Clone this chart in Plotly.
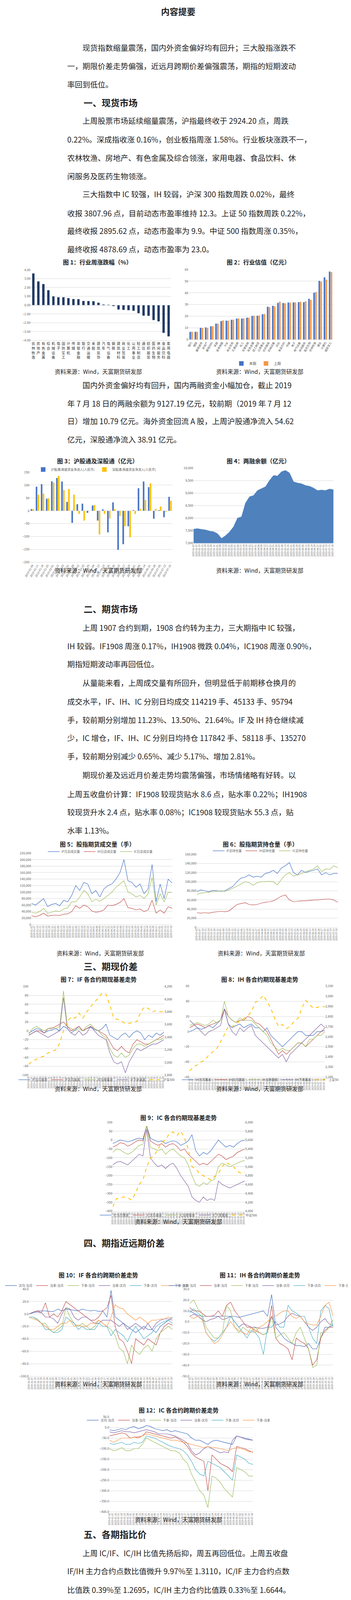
import numpy as np
import pandas as pd
import plotly.graph_objects as go

W, H = 898, 6243
FONT = "Noto Sans CJK SC"

# ---------------- data ----------------
ind1 = ["农林牧渔","房地产","有色金属","综合","机械设备","电子","国防军工","计算机","传媒","非银金融","银行","交通运输","采掘","建筑装饰","汽车","电气设备","钢铁","建筑材料","商业贸易","化工","公用事业","轻工制造","通信","纺织服装","医药生物","休闲服务","食品饮料","家用电器"]
chg1 = [3.6,2.7,2.4,1.7,1.0,0.9,0.9,0.8,0.7,0.68,0.48,0.47,0.45,0.28,0.08,0.05,-0.12,-0.5,-0.55,-0.58,-0.65,-0.92,-1.2,-1.22,-1.7,-1.85,-3.15,-3.55]

ind2 = ["银行","钢铁","建筑装饰","房地产","建筑材料","采掘","家用电器","汽车","商业贸易","交通运输","化工","非银金融","有色金属","轻工制造","公用事业","纺织服装","机械设备","综合","食品饮料","传媒","电子","电气设备","休闲服务","医药生物","农林牧渔","通信","计算机","国防军工"]
pe_now = [6.8,6.8,10.2,10.5,11.5,13.8,15.9,16.3,17.0,18.1,18.1,18.9,20.4,20.5,21.8,28.2,29.0,31.5,31.4,31.8,31.9,32.1,32.1,35.0,40.2,50.3,53.3,58.3]
pe_prev = [6.8,6.8,10.1,10.2,11.5,13.7,16.5,16.2,17.1,18.1,18.2,18.8,20.5,20.6,22.0,27.8,28.6,32.5,31.1,31.6,31.9,32.4,32.9,34.1,40.7,49.7,51.3,57.8]

wk = ["2019-01-04","2019-01-11","2019-01-18","2019-01-25","2019-02-01","2019-02-15","2019-02-22","2019-03-01","2019-03-08","2019-03-15","2019-03-22","2019-03-29","2019-04-04","2019-04-12","2019-04-19","2019-04-26","2019-04-30","2019-05-10","2019-05-17","2019-05-24","2019-05-31","2019-06-06","2019-06-14","2019-06-21","2019-06-28","2019-07-05","2019-07-12","2019-07-19"]
hgt = [7,94,104,47,115,128,114,35,-47,26,28,-8,21,-38,6,-84,33,-152,-130,-60,3,88,114,92,-31,3,-25,54.62]
sgt = [7,63,67,48,110,136,81,85,63,-12,-38,1,23,-92,-12,-30,7,-20,-60,-103,-12,8,43,107,8,17,-4,38.91]

margin = [7560,7580,7550,7530,7480,7460,7380,7190,7300,7450,7650,8000,8050,8600,8850,8900,9100,9180,9250,9500,9700,9680,9850,9900,9800,9450,9400,9370,9300,9270,9200,9100,9120,9100,9160,9130]

vol_if = [65000,60000,70000,80000,55000,62000,65000,58000,75000,70000,90000,120000,105000,130000,125000,95000,105000,85000,110000,120000,125000,140000,160000,200000,135000,130000,115000,125000,95000,110000,185000,70000,125000,80000,140000,128000]
vol_ih = [27000,24000,28000,35000,26000,28000,29000,28000,32000,33000,40000,58000,50000,60000,55000,42000,38000,40000,45000,60000,58000,62000,68000,80000,52000,50000,45000,48000,40000,45000,75000,35000,45000,35000,55000,50000]
vol_ic = [38000,35000,40000,50000,35000,38000,42000,40000,48000,52000,70000,70000,85000,105000,95000,70000,78000,72000,80000,90000,100000,115000,125000,135000,100000,95000,85000,90000,80000,95000,145000,60000,95000,70000,100000,98000]

oi_if = [78000,82000,80000,78000,81000,80000,79000,80000,85000,90000,100000,108000,110000,115000,110000,112000,110000,118000,120000,125000,118000,130000,135000,142000,120000,115000,125000,120000,123000,125000,128000,115000,120000,115000,118000,118000]
oi_ih = [32000,31000,32000,31000,33000,34000,35000,34000,36000,43000,50000,52000,54000,50000,49000,50000,53000,55000,56000,58000,63000,68000,71000,60000,56000,57000,58000,58000,59000,60000,60000,61000,62000,62000,60000,55000]
oi_ic = [72000,75000,76000,77000,78000,79000,80000,79000,82000,86000,90000,95000,100000,98000,92000,98000,100000,100000,101000,100000,93000,105000,115000,120000,112000,115000,118000,122000,125000,128000,135000,122000,128000,127000,135000,131000]

hs300 = [2970,3020,3050,3080,3100,3150,3170,3200,3300,3500,3650,3720,3700,3780,3700,3800,3880,3950,4020,4100,4080,3900,3700,3680,3660,3610,3620,3630,3650,3800,3880,3850,3800,3820,3800,3808]
if_b1 = [-5,0,5,3,-5,0,2,5,0,10,5,-5,2,10,0,5,8,3,0,5,15,-10,-15,-20,-10,-5,-15,-5,0,-5,-20,-10,-15,-5,-10,-3]
if_b2 = [-10,-5,0,0,-5,5,5,10,15,20,10,0,5,10,0,5,10,5,0,-5,-10,-25,-40,-45,-35,-45,-50,-30,-20,-25,-30,-30,-25,-20,-15,-10]
if_b3 = [-8,5,10,5,0,5,8,5,10,90,10,5,0,5,0,10,15,5,0,-10,-15,-40,-55,-60,-50,-60,-55,-40,-30,-30,-35,-30,-25,-20,-20,-15]
if_b4 = [-10,-5,0,-5,-10,-15,-10,-5,0,75,5,-5,-10,0,-10,-5,10,0,-10,-15,-20,-50,-70,-75,-70,-95,-70,-55,-40,-45,-40,-35,-30,-30,-25,-20]

sz50 = [2260,2300,2320,2350,2370,2420,2450,2480,2550,2620,2700,2700,2720,2760,2780,2800,2850,2940,2960,3010,2950,2880,2780,2700,2720,2680,2700,2750,2780,2880,2960,2920,2880,2890,2900,2895]
ih_b1 = [0,2,5,3,5,8,5,10,15,30,10,5,8,10,5,8,10,5,5,0,5,-5,-10,-15,-20,-15,-10,-5,0,0,-5,-5,-5,0,0,2]
ih_b2 = [5,8,10,8,5,8,10,12,15,30,20,15,12,15,15,20,18,12,10,5,0,-10,-20,-30,-25,-30,-25,-20,-15,-15,-20,-15,-10,-5,0,5]
ih_b3 = [8,10,12,10,8,10,15,12,15,40,20,15,12,18,15,15,15,10,5,0,-5,-15,-20,-25,-22,-25,-25,-20,-15,-15,-20,-10,-10,-5,-5,0]
ih_b4 = [15,10,5,0,-5,0,2,5,8,30,10,0,-5,5,0,5,8,-5,-10,-15,-20,-25,-30,-35,-30,-40,-30,-25,-20,-15,-10,-5,0,5,10,5]

zz500 = [4100,4280,4300,4320,4300,4250,4400,4600,4700,5000,5200,5250,5400,5550,5600,5750,5780,5700,5800,5650,5400,5000,4950,4850,4800,4750,4700,4780,4850,5000,5100,5050,5000,4900,4850,4870]
ic_b1 = [-20,-10,0,-5,-10,-5,5,10,5,80,10,0,-10,-5,-20,-10,-5,-10,-30,-20,-5,30,-60,-90,-70,-80,-60,-30,0,-20,-40,-30,-40,-20,-5,-2]
ic_b2 = [-40,-30,-15,-20,-35,-25,-10,0,-5,80,-5,-20,-30,-20,-40,-25,-20,-35,-60,-50,-80,-100,-120,-140,-130,-140,-120,-100,-80,-90,-110,-100,-90,-70,-60,-50]
ic_b3 = [-70,-50,-55,-70,-80,-70,-50,-30,-25,80,-40,-50,-60,-50,-80,-60,-50,-70,-90,-100,-140,-200,-250,-260,-240,-250,-230,-220,-150,-130,-140,-150,-140,-130,-120,-115]
ic_b4 = [-140,-125,-120,-130,-140,-120,-100,-80,-90,60,-100,-130,-150,-140,-160,-140,-130,-160,-200,-230,-260,-320,-340,-350,-320,-340,-330,-340,-230,-250,-260,-270,-260,-250,-240,-230]

if_s = [
 [0,2,5,5,5,4,4,8,5,8,7,6,5,8,6,5,6,4,5,-5,38,-5,-10,-15,-20,-25,-30,-25,-20,-25,-25,-30,-20,-15,-10,-5],
 [0,3,5,2,18,-5,0,-5,5,20,15,10,5,0,-5,-10,-10,-5,5,10,30,-20,-40,-45,-60,-80,-40,-45,-50,-40,-45,-50,-30,-20,-15,-18],
 [-5,-5,-10,-15,-15,-25,-30,-25,-20,10,-5,-15,-20,-15,-20,-25,-20,-10,-15,-20,-25,-35,-55,-60,-80,-50,-60,-65,-55,-50,-60,-40,-30,-25,-20,-25],
 [0,3,3,2,-5,-5,-8,-15,0,10,8,-5,-10,-5,-5,-10,-15,-15,-10,-10,-10,-15,-20,-15,-25,-20,-15,-20,-25,-15,-25,-15,-10,-8,-8,-10],
 [-5,-5,-8,-15,-25,-25,-30,-30,-25,-5,-10,-15,-25,-20,-25,-25,-25,-15,-20,-20,-35,-25,-30,-35,-45,-30,-20,-30,-40,-35,-30,-20,-15,-12,-10,-15],
 [-5,-8,-10,-15,-20,-25,-25,-20,-15,-15,-10,-20,-18,-20,-20,-15,-15,-10,-15,-20,-5,15,10,8,0,-5,-10,-5,-10,-15,-10,-10,-8,-8,-5,-8]]
ih_s = [
 [10,8,6,5,5,5,5,5,5,5,5,5,4,5,6,7,8,9,10,5,25,-5,-10,-15,-18,-20,-22,-22,-23,-20,-25,-25,-15,-5,-5,-3],
 [13,10,10,8,5,5,6,10,5,15,18,10,5,0,-5,-5,-8,-10,-12,-10,15,-15,-20,-22,-25,-35,-15,-18,-20,-25,-40,-35,-15,-8,-5,-5],
 [17,20,12,8,-5,-10,-15,-15,-10,15,10,-5,-10,-5,-8,-10,-5,-10,-12,-10,5,-15,-12,-10,-15,-20,-10,-5,-15,-25,-42,-40,-10,-10,-5,2],
 [5,7,5,2,0,2,3,5,2,3,5,0,-5,-2,-3,-5,-5,-6,-6,-5,5,-3,-2,0,5,8,6,5,0,-5,-8,-5,0,3,-2,-3],
 [8,12,8,5,-10,-15,-18,-15,-10,-5,5,0,-5,-10,-15,-8,-10,-15,-30,-5,-5,0,-5,-5,15,10,8,5,5,-5,-15,-20,10,15,12,-5],
 [5,3,5,3,-10,-15,-20,-18,-12,-5,0,-5,-8,-10,-12,-5,-10,-5,-3,0,5,5,8,10,10,5,3,5,0,-2,-3,-3,5,15,18,5]]
ic_s = [
 [-10,-15,-10,-5,-10,0,5,-5,0,10,5,-5,-10,-15,-10,-20,-15,-20,-25,-30,-50,-60,-60,-70,-80,-65,-60,-65,-70,-75,-80,-40,-45,-50,-55,-60],
 [-40,-35,-30,-25,-30,-50,-45,-45,-40,-20,-25,-30,-35,-40,-45,-50,-45,-55,-70,-90,-120,-140,-150,-160,-300,-130,-150,-170,-180,-190,-210,-90,-95,-100,-110,-118],
 [-100,-110,-105,-95,-110,-110,-100,-100,-80,-50,-60,-70,-80,-90,-100,-110,-110,-120,-150,-170,-220,-260,-300,-320,-380,-230,-240,-260,-290,-310,-330,-190,-200,-210,-230,-230],
 [-20,-25,-20,-15,-20,-20,-25,-20,-15,-10,-15,-20,-30,-30,-30,-35,-40,-50,-60,-75,-110,-130,-120,-100,-90,-100,-110,-120,-115,-120,-60,-40,-45,-55,-58,-60],
 [-75,-80,-75,-70,-80,-80,-70,-75,-70,-40,-45,-50,-60,-70,-80,-90,-95,-100,-110,-130,-160,-200,-220,-230,-160,-170,-180,-190,-210,-230,-250,-130,-140,-150,-170,-175],
 [-60,-70,-60,-50,-50,-50,-45,-50,-40,-30,-35,-40,-45,-50,-55,-60,-60,-65,-70,-75,-80,-85,-90,-95,-90,-95,-95,-100,-105,-110,-100,-95,-100,-105,-115,-115]]

r_icif = [1.385,1.40,1.395,1.39,1.375,1.365,1.35,1.32,1.305,1.325,1.35,1.355,1.37,1.39,1.47,1.42,1.44,1.465,1.43,1.41,1.39,1.37,1.35,1.32,1.35,1.345,1.33,1.33,1.31,1.315,1.30,1.295,1.285,1.28,1.285,1.27]
r_ifih = [1.31,1.315,1.315,1.312,1.31,1.305,1.30,1.295,1.315,1.325,1.33,1.36,1.345,1.35,1.37,1.36,1.375,1.36,1.345,1.335,1.33,1.32,1.31,1.315,1.325,1.32,1.32,1.31,1.305,1.30,1.31,1.31,1.312,1.31,1.32,1.311]
r_icih = [1.76,1.79,1.78,1.77,1.74,1.73,1.70,1.64,1.72,1.75,1.78,1.79,1.84,1.90,2.05,1.96,2.02,2.00,1.96,1.93,1.89,1.82,1.77,1.74,1.79,1.78,1.75,1.73,1.71,1.70,1.69,1.69,1.67,1.68,1.70,1.66]

vif = [
 [0.08,0.22,0.18,0.1,0.2,0.15,0.13,0.1,0.15,0.28,0.2,0.58,0.55,0.15,0.3,0.25,0.2,0.35,0.28,0.15,0.25,0.2,0.48,0.57,0.25,0.2,0.15,0.08,0.1,0.2,0.2,0.15,0.2,0.15,0.08,0.1],
 [0.08,0.17,0.16,0.15,0.15,0.13,0.14,0.15,0.18,0.2,0.22,0.42,0.42,0.45,0.25,0.28,0.2,0.3,0.28,0.2,0.22,0.25,0.35,0.4,0.42,0.2,0.18,0.14,0.12,0.2,0.22,0.2,0.18,0.2,0.15,0.14],
 [0.13,0.16,0.16,0.16,0.16,0.15,0.15,0.15,0.17,0.18,0.2,0.31,0.32,0.35,0.34,0.34,0.25,0.27,0.26,0.25,0.26,0.26,0.3,0.33,0.32,0.31,0.3,0.2,0.18,0.17,0.17,0.19,0.19,0.2,0.19,0.15],
 [0.27,0.26,0.24,0.21,0.2,0.18,0.18,0.18,0.19,0.19,0.23,0.23,0.24,0.24,0.24,0.25,0.25,0.26,0.26,0.27,0.27,0.28,0.31,0.31,0.31,0.29,0.28,0.27,0.26,0.26,0.25,0.25,0.24,0.24,0.24,0.23]]
vih = [
 [0.1,0.2,0.16,0.12,0.15,0.1,0.12,0.11,0.16,0.28,0.2,0.61,0.6,0.15,0.27,0.25,0.12,0.32,0.25,0.15,0.28,0.2,0.4,0.45,0.22,0.2,0.12,0.1,0.15,0.25,0.28,0.14,0.2,0.16,0.09,0.11],
 [0.11,0.15,0.14,0.16,0.16,0.13,0.13,0.12,0.16,0.2,0.22,0.45,0.43,0.45,0.26,0.27,0.22,0.27,0.27,0.2,0.23,0.25,0.3,0.38,0.35,0.2,0.15,0.12,0.15,0.2,0.22,0.2,0.2,0.18,0.14,0.13],
 [0.12,0.15,0.15,0.16,0.16,0.15,0.14,0.14,0.16,0.17,0.2,0.33,0.34,0.36,0.36,0.35,0.25,0.26,0.25,0.22,0.23,0.22,0.28,0.31,0.3,0.3,0.28,0.2,0.17,0.17,0.19,0.19,0.19,0.19,0.18,0.15],
 [0.25,0.24,0.22,0.2,0.18,0.17,0.16,0.17,0.17,0.18,0.2,0.23,0.23,0.24,0.24,0.24,0.25,0.25,0.25,0.26,0.26,0.27,0.3,0.31,0.3,0.29,0.26,0.25,0.24,0.24,0.23,0.23,0.23,0.22,0.22,0.21]]
vic = [
 [0.1,0.26,0.22,0.08,0.12,0.15,0.14,0.12,0.05,0.27,0.28,0.45,0.5,0.15,0.4,0.38,0.25,0.28,0.48,0.18,0.15,0.22,0.28,0.65,0.76,0.35,0.32,0.28,0.2,0.08,0.42,0.15,0.18,0.12,0.3,0.15],
 [0.12,0.2,0.18,0.15,0.12,0.14,0.12,0.12,0.2,0.25,0.22,0.38,0.36,0.33,0.38,0.36,0.27,0.35,0.36,0.28,0.22,0.25,0.28,0.5,0.55,0.3,0.25,0.22,0.2,0.19,0.3,0.25,0.18,0.18,0.26,0.22],
 [0.15,0.19,0.18,0.17,0.16,0.15,0.16,0.18,0.21,0.22,0.3,0.31,0.3,0.32,0.35,0.35,0.3,0.34,0.33,0.3,0.29,0.3,0.28,0.41,0.42,0.42,0.42,0.26,0.22,0.28,0.26,0.24,0.24,0.24,0.21,0.2],
 [0.31,0.26,0.25,0.22,0.22,0.21,0.21,0.22,0.22,0.22,0.24,0.24,0.25,0.26,0.26,0.27,0.28,0.28,0.29,0.29,0.3,0.31,0.36,0.37,0.37,0.36,0.35,0.34,0.33,0.33,0.32,0.31,0.31,0.31,0.31,0.31]]

dates = [d.strftime("%Y-%m-%d") for d in pd.bdate_range("2019-01-02", "2019-07-19")]
ND = len(dates)

# ---------------- helpers ----------------
BLUE, RED, GREEN, PURPLE, CYAN, ORANGE, GOLD = "#4472c4", "#c0504d", "#9bbb59", "#8064a2", "#4bacc6", "#f79646", "#ffc000"
fig = go.Figure()
lay = {}
ann = []

def fx(p): return p / W
def fy(p): return 1 - p / H

def text(x, y, s, size=20, bold=False, anchor="left", color="#222"):
    ann.append(dict(x=fx(x), y=fy(y), xref="paper", yref="paper", text=f"<b>{s}</b>" if bold else s,
                    showarrow=False, xanchor=anchor, yanchor="middle",
                    font=dict(family=FONT, size=size, color=color)))

def axes(n, x0, x1, y0, y1, yr, dt, fmt="", xkw=None, right=None):
    xk = dict(domain=[fx(x0), fx(x1)], anchor=f"y{n}", showgrid=False, showline=True, linecolor="#d9d9d9",
              ticks="", zeroline=False, tickfont=dict(size=7, color="#595959", family=FONT))
    if xkw: xk.update(xkw)
    lay[f"xaxis{n}"] = xk
    lay[f"yaxis{n}"] = dict(domain=[fy(y1), fy(y0)], anchor=f"x{n}", range=yr, dtick=dt, tick0=yr[0],
                            tickformat=fmt, showgrid=True, gridcolor="#d9d9d9", zeroline=False,
                            tickfont=dict(size=8, color="#595959"))
    if right:
        r, rd, rf = right
        lay[f"yaxis{n+40}"] = dict(overlaying=f"y{n}", side="right", anchor=f"x{n}", range=r, dtick=rd, tick0=r[0],
                                   tickformat=rf, showgrid=False, zeroline=False, tickfont=dict(size=8, color="#595959"))

def leg(name, cx, y, size=8):
    lay[name] = dict(x=fx(cx), y=fy(y), xanchor="center", yanchor="middle", orientation="h",
                     font=dict(size=size, family=FONT, color="#595959"), bgcolor="rgba(0,0,0,0)",
                     itemwidth=30, tracegroupgap=0)

date_x = dict(range=[0, ND - 1], tickmode="array", tickvals=list(range(0, ND, 3)),
              ticktext=dates[::3], tickangle=-90, tickfont=dict(size=6, color="#595959"))

def line(n, s, name, color, lg, width=1.2, dash=None, yax=None):
    xs = np.linspace(0, ND - 1, len(s))
    fig.add_trace(go.Scatter(x=xs, y=s, name=name, mode="lines", xaxis=f"x{n}", yaxis=yax or f"y{n}",
                             line=dict(color=color, width=width, dash=dash), legend=lg, showlegend=lg is not None))

# ---------------- charts ----------------
# Fig1
axes(1, 35, 429, 678, 859, [-4, 4], 1, ".2f",
     xkw=dict(type="category", tickvals=ind1, ticktext=["<br>".join(c) for c in ind1], tickfont=dict(size=9, family=FONT, color="#333")))
fig.add_trace(go.Bar(x=ind1, y=chg1, marker_color="#1f3864", width=0.5, xaxis="x1", yaxis="y1", showlegend=False))
# Fig2
axes(2, 478, 884, 677, 857, [0, 60], 10, "", xkw=dict(type="category", tickangle=-60, tickfont=dict(size=7, family=FONT, color="#595959")))
leg("legend2", 674, 918, 9)
fig.add_trace(go.Bar(x=ind2, y=pe_now, name="本期", marker_color=BLUE, xaxis="x2", yaxis="y2", legend="legend2"))
fig.add_trace(go.Bar(x=ind2, y=pe_prev, name="上期", marker_color=ORANGE, xaxis="x2", yaxis="y2", legend="legend2"))
# Fig3
axes(3, 32, 433, 1197, 1428, [-200, 150], 50, "", xkw=dict(type="category", tickangle=-60, tickfont=dict(size=7, color="#595959")))
leg("legend3", 220, 1190, 8)
fig.add_trace(go.Bar(x=wk, y=hgt, name="沪股通:周度资金净流入(人民币)", marker_color=BLUE, xaxis="x3", yaxis="y3", legend="legend3"))
fig.add_trace(go.Bar(x=wk, y=sgt, name="深股通:周度资金净流入(人民币)", marker_color=GOLD, xaxis="x3", yaxis="y3", legend="legend3"))
# Fig4
axes(4, 492, 885, 1186, 1379, [7000, 10000], 500, ",", xkw=date_x)
fig.add_trace(go.Scatter(x=np.linspace(0, ND - 1, len(margin)), y=margin, mode="lines", fill="tozeroy",
                         fillcolor="#4f81bd", line=dict(color="#4f81bd", width=1), xaxis="x4", yaxis="y4", showlegend=False))
# Fig5
axes(5, 37, 432, 2174, 2357, [0, 220000], 20000, ",", xkw=date_x)
leg("legend5", 230, 2170)
for s, nm, c in [(vol_if, "IF日总成交量", BLUE), (vol_ih, "IH日总成交量", RED), (vol_ic, "IC日总成交量", GREEN)]:
    line(5, s, nm, c, "legend5")
# Fig6
axes(6, 501, 897, 2177, 2364, [0, 160000], 20000, ",", xkw=date_x)
leg("legend6", 680, 2168)
for s, nm, c in [(oi_if, "IF总持仓量", BLUE), (oi_ih, "IH总持仓量", RED), (oi_ic, "IC总持仓量", GREEN)]:
    line(6, s, nm, c, "legend6")
# Fig7
axes(7, 29, 409, 2516, 2743, [-100, 100], 20, "", xkw=date_x, right=([2800, 4200], 200, ","))
leg("legend7", 220, 2755)
for s, nm, c in [(if_b1, "IF当月基差", BLUE), (if_b2, "IF次月基差", RED), (if_b3, "IF当季基差", GREEN), (if_b4, "IF下季基差", PURPLE)]:
    line(7, s, nm, c, "legend7")
line(7, hs300, "沪深300", GOLD, "legend7", 2, "dash", "y47")
# Fig8
axes(8, 481, 861, 2515, 2748, [-60, 60], 20, "", xkw=date_x, right=([2200, 3100], 100, ","))
leg("legend8", 680, 2755)
for s, nm, c in [(ih_b1, "IH当月基差", BLUE), (ih_b2, "IH次月基差", RED), (ih_b3, "IH当季基差", GREEN), (ih_b4, "IH下季基差", PURPLE)]:
    line(8, s, nm, c, "legend8")
line(8, sz50, "上证50", GOLD, "legend8", 2, "dash", "y48")
# Fig9
axes(9, 265, 636, 2864, 3092, [-400, 100], 50, "", xkw=date_x, right=([4000, 6000], 200, ","))
leg("legend9", 450, 3102)
for s, nm, c in [(ic_b1, "IC当月基差", BLUE), (ic_b2, "IC次月基差", RED), (ic_b3, "IC当季基差", GREEN), (ic_b4, "IC下季基差", PURPLE)]:
    line(9, s, nm, c, "legend9")
line(9, zz500, "中证500", GOLD, "legend9", 2, "dash", "y49")
# Fig10-12
snames = ["次月-当月", "当季-当月", "下季-当月", "当季-次月", "下季-次月", "下季-当季"]
scols = [BLUE, RED, GREEN, PURPLE, CYAN, ORANGE]
for n, (x0, x1, y0, y1, yr, dt, data, cx, ly) in {
        10: (30, 433, 3292, 3515, [-100, 40], 20, if_s, 220, 3283),
        11: (481, 884, 3292, 3515, [-50, 30], 10, ih_s, 680, 3283),
        12: (256, 659, 3620, 3863, [-400, 50], 50, ic_s, 450, 3628)}.items():
    axes(n, x0, x1, y0, y1, yr, dt, ".1f", xkw=date_x)
    leg(f"legend{n}", cx, ly)
    for s, nm, c in zip(data, snames, scols):
        line(n, s, nm, c, f"legend{n}")
# Fig13
axes(13, 262, 633, 4140, 4339, [1.25, 1.5], 0.05, ".4f", xkw=date_x, right=([1.6, 2.1], 0.1, ".4f"))
leg("legend13", 450, 4147)
line(13, r_icif, "IC/IF", BLUE, "legend13")
line(13, r_ifih, "IF/IH", RED, "legend13")
line(13, r_icih, "IC/IH（右轴）", GREEN, "legend13", yax="y53")
# Fig14-16
vnames = ["历史5日平均波动率", "历史10日平均波动率", "历史20日平均波动率", "历史60日平均波动率"]
vcols = [BLUE, RED, GREEN, PURPLE]
vw = [1.2, 1.6, 2.2, 2.6]
for n, (x0, x1, y0, y1, yr, data, cx, ly) in {
        14: (32, 431, 4492, 4650, [0, 0.6], vif, 225, 4727),
        15: (484, 881, 4492, 4650, [0, 0.7], vih, 678, 4727),
        16: (257, 656, 4832, 4990, [0, 0.8], vic, 456, 5067)}.items():
    axes(n, x0, x1, y0, y1, yr, 0.1, "", xkw=date_x)
    lay[f"yaxis{n}"]["gridwidth"] = 3 if n < 16 else 1
    leg(f"legend{n}", cx, ly)
    for s, nm, c, w in zip(data, vnames, vcols, vw):
        line(n, s, nm, c, f"legend{n}", w)

# ---------------- text ----------------
L, I = 135, 178
text(449, 14, "内容提要", 22, True, "center")
body = [
 (I, 108, "现货指数缩量震荡，国内外资金偏好均有回升；三大股指涨跌不"),
 (L, 155, "一，期限价差走势偏强，近远月跨期价差偏强震荡，期指的短期波动"),
 (L, 202, "率回到低位。"),
 (I, 295, "上周股票市场延续缩量震荡，沪指最终收于 2924.20 点，周跌"),
 (L, 343, "0.22%。深成指收涨 0.16%，创业板指周涨 1.58%。行业板块涨跌不一，"),
 (L, 390, "农林牧渔、房地产、有色金属及综合领涨，家用电器、食品饮料、休"),
 (L, 437, "闲服务及医药生物领涨。"),
 (I, 483, "三大指数中 IC 较强，IH 较弱，沪深 300 指数周跌 0.02%，最终"),
 (L, 532, "收报 3807.96 点，目前动态市盈率维持 12.3。上证 50 指数周跌 0.22%，"),
 (L, 578, "最终收报 2895.62 点，动态市盈率为 9.9。中证 500 指数周涨 0.35%，"),
 (L, 625, "最终收报 4878.69 点，动态市盈率为 23.0。"),
 (I, 973, "国内外资金偏好均有回升，国内两融资金小幅加仓，截止 2019"),
 (L, 1020, "年 7 月 18 日的两融余额为 9127.19 亿元，较前期（2019 年 7 月 12"),
 (L, 1065, "日）增加 10.79 亿元。海外资金回流 A 股，上周沪股通净流入 54.62"),
 (L, 1112, "亿元，深股通净流入 38.91 亿元。"),
 (I, 1595, "上周 1907 合约到期，1908 合约转为主力，三大期指中 IC 较强，"),
 (L, 1642, "IH 较弱。IF1908 周涨 0.17%，IH1908 微跌 0.04%，IC1908 周涨 0.90%，"),
 (L, 1688, "期指短期波动率再回低位。"),
 (I, 1737, "从量能来看，上周成交量有所回升，但明显低于前期移仓换月的"),
 (L, 1785, "成交水平，IF、IH、IC 分别日均成交 114219 手、45133 手、95794"),
 (L, 1832, "手，较前期分别增加 11.23%、13.50%、21.64%。IF 及 IH 持仓继续减"),
 (L, 1878, "少，IC 增仓，IF、IH、IC 分别日均持仓 117842 手、58118 手、135270"),
 (L, 1925, "手，较前期分别减少 0.65%、减少 5.17%、增加 2.81%。"),
 (I, 1973, "期现价差及远近月价差走势均震荡偏强，市场情绪略有好转。以"),
 (L, 2022, "上周五收盘价计算：IF1908 较现货贴水 8.6 点，贴水率 0.22%；IH1908"),
 (L, 2068, "较现货升水 2.4 点，贴水率 0.08%；IC1908 较现货贴水 55.3 点，贴"),
 (L, 2115, "水率 1.13%。"),
 (I, 3968, "上周 IC/IF、IC/IH 比值先扬后抑，周五再回低位。上周五收盘"),
 (L, 4015, "IF/IH 主力合约点数比值微升 9.97%至 1.3110，IC/IF 主力合约点数"),
 (L, 4063, "比值跌 0.39%至 1.2695，IC/IH 主力合约比值跌 0.33%至 1.6644。"),
 (I, 5173, "沪指收于 2924.20 点，周跌 0.22%。行业板块涨跌不一，农林牧"),
 (L, 5223, "渔、房地产、有色金属及综合领涨，家用电器、食品饮料、休闲服务"),
 (L, 5270, "及医药生物领涨。国内外风险偏好均有回升，两融余额小幅增加，北"),
 (L, 5317, "上资金明显回流。三大期指中 IC 较强，IH 较弱。IF1908 周涨 0.17%，"),
 (L, 5365, "IH1908 微跌 0.04%，IC1908 周涨 0.90%，期指短期波动率再回低位。"),
 (L, 5412, "从量能来看，上周成交量有所回升，但明显低于前期移仓换月的成交"),
 (L, 5458, "水平。IF 及 IH 持仓继续减少，IC 增仓。期现价差及远近月价差走势"),
 (L, 5505, "均震荡偏强，市场情绪略有好转。上周公布的经济数据好于预期，加"),
 (L, 5552, "上全球央行降息预期再升温，利多股市。政策方面，国务院金融委办"),
 (L, 5598, "公室发布 11 条扩大金融业对外开放措施。同时，北向资金连续流入"),
 (L, 5647, "A 股，对市场信心有一定提振作用。科创板正式开板运行，虽然有一"),
 (L, 5693, "定的分流效应，但目前科创板市场规模较小，从创业板的经验来看，"),
 (L, 5742, "对中小盘股的提振作用较大。综上，股指本周走势震荡偏强，IC 相"),
 (L, 5788, "对较强，可轻仓试多 IC 空 IH。仅供参考。"),
]
for x, y, s in body:
    text(x, y, s, 19.5)

for y, s in [(248, "一、现货市场"), (1547, "二、期货市场"), (2463, "三、期现价差"), (3173, "四、期指近远期价差"),
             (3920, "五、各期指比价"), (4437, "六、期指波动率"), (5127, "七、总结")]:
    text(181, y, s, 23, True)

for cx, y, s in [(222, 658, "图 1：行业周涨跌幅（%）"), (674, 658, "图 2：行业估值（亿元）"),
                 (222, 1168, "图 3：沪股通及深股通（亿元）"), (674, 1168, "图 4：两融余额（亿元）"),
                 (222, 2150, "图 5：股指期货成交量（手）"), (680, 2150, "图 6：股指期货持仓量（手）"),
                 (225, 2497, "图 7：IF 各合约期现基差走势"), (678, 2497, "图 8：IH 各合约期现基差走势"),
                 (450, 2852, "图 9：IC 各合约期现基差走势"),
                 (225, 3255, "图 10：IF 各合约跨期价差走势"), (678, 3255, "图 11：IH 各合约跨期价差走势"),
                 (450, 3602, "图 12：IC 各合约跨期价差走势"),
                 (450, 4123, "图 13：IC/IF IC/IF IF/IH 主力合约比值"),
                 (225, 4472, "图 14：IF 主力合约波动率"), (678, 4472, "图 15：IH 主力合约波动率"),
                 (456, 4818, "图 16：IC 主力合约波动率")]:
    text(cx, y, s, 15, True, "center")

SRC = "资料来源：Wind，天富期货研发部"
for cx, y in [(225, 938), (678, 938), (225, 1448), (678, 1448), (230, 2430), (682, 2430),
              (225, 2777), (678, 2777), (450, 3118), (225, 3535), (678, 3535), (450, 3882),
              (450, 4403), (225, 4751), (678, 4751), (450, 5093)]:
    text(cx, y, SRC, 14.5, False, "center")

text(178, 5835, "免责声明", 17, True)
D = 173
disc = [
 (D, 5853, "本报告的信息均来源于公开资料，我公司对这些信息的准确性和完整性不作"),
 (L, 5877, "任何保证，也不保证所包含的信息和建议不会发生任何变更。文中的观点、结论"),
 (L, 5900, "和建议仅供参考。天富期货可发出其它与本报告所载资料不一致及有不同结论的"),
 (L, 5924, "报告。本报告及该等报告反映编写分析员的不同设想、见解及分析方法。报告所"),
 (L, 5947, "载资料、意见及推测仅反映分析员于发出此报告日期当日的独立判断。"),
 (D, 5972, "客户不应视本报告为作出投资决策的惟一因素。本报告中所指的投资及服务"),
 (L, 5995, "可能不适合个别客户，不构成客户私人咨询建议。本公司未确保本报告充分考虑"),
 (L, 6019, "到个别客户特殊的投资目标、财务状况或需要。本公司建议客户应考虑本报告的"),
 (L, 6042, "任何意见或建议是否符合其特定状况，以及（若有必要）咨询独立投资顾问。"),
 (D, 6066, "在任何情况下，本报告中的信息或所表述的意见并不构成对任何人的投资建"),
 (L, 6089, "议。在任何情况下，本公司不对任何人因使用本报告中的任何内容所引致的损失"),
 (L, 6113, "负任何责任。"),
 (D, 6137, "本报告的观点可能与资管团队的观点不同或对立，对于基于本报告全面或部"),
 (L, 6161, "分做出的交易、结果，不论盈利或亏损，天富期货研究发展部不承担责任。"),
 (D, 6184, "本报告版权仅为天富期货有限公司所有，未经书面许可，任何机构和个人不"),
 (L, 6208, "得以任何形式翻版、复制和发布。如引用、刊发，需注明出处天富期货研究发展"),
 (L, 6232, "部，且不得对本报告进行有悖原意的引用、删节和修改。"),
]
for x, y, s in disc:
    text(x, y, s, 18)

fig.update_layout(width=W, height=H, margin=dict(l=0, r=0, t=0, b=0), paper_bgcolor="white",
                  plot_bgcolor="white", barmode="group", bargap=0.3, bargroupgap=0.05,
                  font=dict(family=FONT), annotations=ann, **lay)
fig.write_html("out.html")
